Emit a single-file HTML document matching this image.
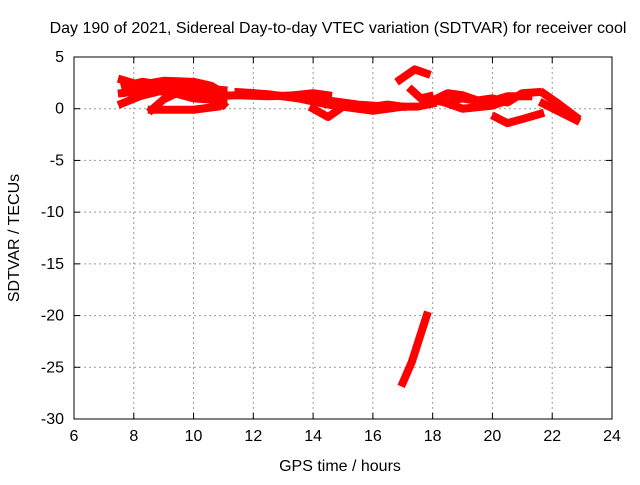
<!DOCTYPE html>
<html><head><meta charset="utf-8"><style>
body{margin:0;background:#fff}
svg text{font-family:"Liberation Sans",sans-serif;font-size:16px;fill:#000}
</style></head><body>
<svg id="chart" width="640" height="480" xmlns="http://www.w3.org/2000/svg">
<rect width="640" height="480" fill="#fff"/>
<text x="338" y="33" text-anchor="middle">Day 190 of 2021, Sidereal Day-to-day VTEC variation (SDTVAR) for receiver cool</text>
<text x="340" y="471" text-anchor="middle">GPS time / hours</text>
<text transform="translate(19,238) rotate(-90)" text-anchor="middle">SDTVAR / TECUs</text>
<g id="grid"></g><g id="series"></g>
<rect x="74" y="57" width="538" height="362" fill="none" stroke="#000"/>
</svg>
<script>
const xTicks=[6,8,10,12,14,16,18,20,22,24];
const yTicks=[5,0,-5,-10,-15,-20,-25,-30];
const trackA=[[7.6,2.8],[8.2,2.3],[9,2.7],[10,2.6],[10.6,2.2],[11,1.5]];
const trackA2=[[7.7,2.2],[8.3,2.6],[9.2,2.2],[10.2,2.0],[11,1.8]];
const trackB=[[7.6,1.5],[8.5,1.8],[9.5,1.5],[10.5,1.2],[11.5,1.3],[12.5,1.2],[13.5,1.3],[14.5,0.8],[15.5,0.4],[16.5,0.2]];
const trackB2=[[11.5,1.6],[12.5,1.4],[13.5,1.0],[14.5,0.4],[15.5,0.0],[16.5,0.4],[17,0.2]];
const trackC=[[7.6,0.5],[8.2,1.2],[9,1.8],[10,1.0],[11,0.8]];
const trackD=[[8.6,-0.1],[9,0.9],[9.5,1.6],[10.5,1.8],[11,0.4]];
const trackD2=[[8.6,-0.1],[10,-0.1],[10.8,0.2]];
const trackE=[[12,1.5],[13,1.2],[14,1.5],[14.5,1.3]];
const trackF=[[14,0],[14.5,-0.8],[15,0.2],[16,-0.2],[17,0.2],[17.5,0.2],[18,0.5]];
const trackG=[[16.9,2.8],[17.4,3.8],[17.8,3.4]];
const trackH=[[17.3,1.8],[17.6,1.0],[17.9,1.2]];
const trackI=[[18,0.8],[18.5,1.5],[19,1.3],[19.5,0.8],[20,1.0],[20.5,0.6],[21,1.5],[21.5,1.6]];
const trackI2=[[17.8,1.0],[18.4,0.6],[19,1.0],[19.8,0.6],[20.5,1.2],[21.2,1.2]];
const trackJ=[[18.5,0.5],[19,0],[20,0.3],[20.5,0.8]];
const trackK=[[20.1,-0.8],[20.5,-1.4],[21,-1],[21.6,-0.5]];
const trackL=[[21.7,1.5],[22.2,0.5],[22.8,-0.8]];
const trackL2=[[21.7,0.5],[22.8,-1.1]];
const trackM=[[17,-26.5],[17.3,-24.5],[17.8,-20]];
const tracks=[trackA,trackA2,trackB,trackB2,trackC,trackD,trackD2,trackE,trackF,trackG,trackH,trackI,trackI2,trackJ,trackK,trackL,trackL2,trackM];
const X0=74,X1=612,Y0=419,Y1=57;
const xs=v=>X0+(v-6)/(24-6)*(X1-X0);
const ys=v=>Y0-(v+30)/(35)*(Y0-Y1);
const NS="http://www.w3.org/2000/svg";
const g=document.getElementById('grid'),s=document.getElementById('series');
function mk(tag,at,parent){const e=document.createElementNS(NS,tag);for(const k in at)e.setAttribute(k,at[k]);parent.appendChild(e);return e;}
xTicks.forEach(t=>{const x=xs(t);
 if(t>6&&t<24){const l=mk('line',{x1:x,x2:x,y1:Y1,y2:Y0,stroke:'#999','stroke-dasharray':'2,3'},g);
 
 }
 mk('line',{x1:x,x2:x,y1:Y0,y2:Y0-6,stroke:'#000'},g);mk('line',{x1:x,x2:x,y1:Y1,y2:Y1+6,stroke:'#000'},g);
 const tx=mk('text',{x:x,y:Y0+22,'text-anchor':'middle'},g);tx.textContent=t;
 
 });
yTicks.forEach(t=>{const y=ys(t);
 if(t>-30&&t<5){const l=mk('line',{x1:X0,x2:X1,y1:y,y2:y,stroke:'#999','stroke-dasharray':'2,3'},g);
 
 }
 mk('line',{x1:X0,x2:X0+6,y1:y,y2:y,stroke:'#000'},g);mk('line',{x1:X1,x2:X1-6,y1:y,y2:y,stroke:'#000'},g);
 const tx=mk('text',{x:X0-10,y:y+5,'text-anchor':'end'},g);tx.textContent=t;
 
 });
tracks.forEach(tr=>{const p=mk('polyline',{points:tr.map(d=>xs(d[0])+','+ys(d[1])).join(' '),fill:'none',stroke:'#f00','stroke-width':8,'stroke-linejoin':'round','stroke-linecap':'square'},s);
 
 });
</script>
</body></html>
